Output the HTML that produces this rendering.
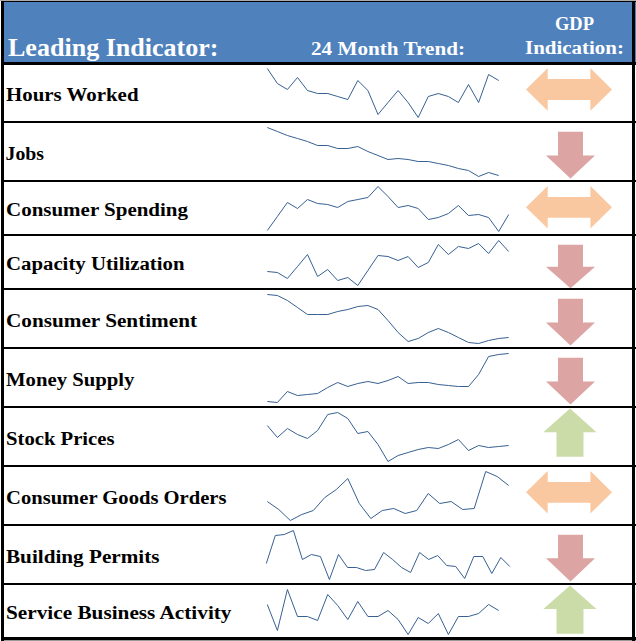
<!DOCTYPE html>
<html><head><meta charset="utf-8"><style>
html,body{margin:0;padding:0;background:#fff;overflow:hidden;}
svg{display:block;}
text{font-family:"Liberation Serif",serif;font-weight:bold;}
</style></head><body>
<svg width="636" height="641" viewBox="0 0 636 641" shape-rendering="auto">
<rect x="0" y="0" width="636" height="1" fill="#ababab"/>
<rect x="4" y="2" width="628" height="60" fill="#4F81BD"/>
<rect x="635" y="2" width="1" height="60" fill="#4F81BD"/>
<rect x="1" y="1" width="635" height="1" fill="#000"/>
<rect x="1" y="1" width="3" height="640" fill="#000"/>
<rect x="632" y="1" width="3" height="640" fill="#000"/>
<rect x="1" y="62" width="635" height="3" fill="#000"/>
<rect x="1" y="121" width="635" height="2" fill="#000"/>
<rect x="1" y="180" width="635" height="2" fill="#000"/>
<rect x="1" y="234" width="635" height="2" fill="#000"/>
<rect x="1" y="288" width="635" height="2" fill="#000"/>
<rect x="1" y="347" width="635" height="2" fill="#000"/>
<rect x="1" y="406" width="635" height="2" fill="#000"/>
<rect x="1" y="465" width="635" height="2" fill="#000"/>
<rect x="1" y="524" width="635" height="2" fill="#000"/>
<rect x="1" y="583" width="635" height="2" fill="#000"/>
<rect x="1" y="637" width="635" height="3" fill="#000"/>
<rect x="4" y="640" width="628" height="1" fill="#9a9a9a"/>
<rect x="635" y="640" width="1" height="1" fill="#9a9a9a"/>
<text x="8" y="55.6" font-size="26" textLength="210.5" lengthAdjust="spacingAndGlyphs" fill="#fff">Leading Indicator:</text>
<text x="311" y="55" font-size="18.5" textLength="154" lengthAdjust="spacingAndGlyphs" fill="#fff">24 Month Trend:</text>
<text x="555" y="29.75" font-size="18.5" textLength="39" lengthAdjust="spacingAndGlyphs" fill="#fff">GDP</text>
<text x="525" y="54" font-size="18.5" textLength="99" lengthAdjust="spacingAndGlyphs" fill="#fff">Indication:</text>
<text x="6" y="100.5" font-size="18.5" textLength="132.5" lengthAdjust="spacingAndGlyphs" fill="#000">Hours Worked</text>
<text x="5.5" y="160" font-size="18.5" textLength="38.5" lengthAdjust="spacingAndGlyphs" fill="#000">Jobs</text>
<text x="6" y="215.5" font-size="18.5" textLength="182" lengthAdjust="spacingAndGlyphs" fill="#000">Consumer Spending</text>
<text x="6" y="269.5" font-size="18.5" textLength="178.5" lengthAdjust="spacingAndGlyphs" fill="#000">Capacity Utilization</text>
<text x="6" y="326.7" font-size="18.5" textLength="191" lengthAdjust="spacingAndGlyphs" fill="#000">Consumer Sentiment</text>
<text x="6" y="386" font-size="18.5" textLength="128.5" lengthAdjust="spacingAndGlyphs" fill="#000">Money Supply</text>
<text x="6" y="444.5" font-size="18.5" textLength="108.5" lengthAdjust="spacingAndGlyphs" fill="#000">Stock Prices</text>
<text x="6" y="503.6" font-size="18.5" textLength="220.5" lengthAdjust="spacingAndGlyphs" fill="#000">Consumer Goods Orders</text>
<text x="6" y="562.8" font-size="18.5" textLength="153.5" lengthAdjust="spacingAndGlyphs" fill="#000">Building Permits</text>
<text x="6" y="619" font-size="18.5" textLength="225.5" lengthAdjust="spacingAndGlyphs" fill="#000">Service Business Activity</text>
<polygon fill="#FAC8A0" points="526.0,89.5 547.7,68.3 547.7,79.1 590.4,79.1 590.4,68.3 612.0,89.5 590.4,110.7 590.4,99.9 547.7,99.9 547.7,110.7"/>
<polygon fill="#DCA4A3" points="558.0,131.8 583.0,131.8 583.0,155.5 595.0,155.5 570.5,178.6 546.0,155.5 558.0,155.5"/>
<polygon fill="#FAC8A0" points="526.0,207.3 547.7,186.1 547.7,196.9 590.4,196.9 590.4,186.1 612.0,207.3 590.4,228.5 590.4,217.7 547.7,217.7 547.7,228.5"/>
<polygon fill="#DCA4A3" points="558.0,244.8 583.0,244.8 583.0,266.8 595.0,266.8 570.5,288.2 546.0,266.8 558.0,266.8"/>
<polygon fill="#DCA4A3" points="558.0,298.8 583.0,298.8 583.0,322.5 595.0,322.5 570.5,345.6 546.0,322.5 558.0,322.5"/>
<polygon fill="#DCA4A3" points="558.0,357.8 583.0,357.8 583.0,381.5 595.0,381.5 570.5,404.6 546.0,381.5 558.0,381.5"/>
<polygon fill="#CCDCA9" points="570.0,408.5 596.5,432.2 583.5,432.2 583.5,456.7 556.5,456.7 556.5,432.2 543.3,432.2"/>
<polygon fill="#FAC8A0" points="526.0,492.3 547.7,471.1 547.7,481.9 590.4,481.9 590.4,471.1 612.0,492.3 590.4,513.5 590.4,502.7 547.7,502.7 547.7,513.5"/>
<polygon fill="#DCA4A3" points="558.0,534.8 583.0,534.8 583.0,558.3 595.0,558.3 570.5,581.6 546.0,558.3 558.0,558.3"/>
<polygon fill="#CCDCA9" points="570.0,585.4 596.5,608.9 583.5,608.9 583.5,633.8 556.5,633.8 556.5,608.9 543.3,608.9"/>
<polyline fill="none" stroke="#376092" stroke-width="1" stroke-linejoin="miter" points="267.3,68.5 277.4,83.5 287.4,89.5 297.5,77.5 307.5,90.5 317.6,93.5 327.7,93.5 337.7,96.5 347.8,99.5 357.8,80.5 367.9,90.5 378.0,114.5 388.0,102.5 398.1,90.5 408.1,102.5 418.2,117.5 428.3,96.5 438.3,93.5 448.4,96.5 458.4,102.5 468.5,84.5 478.6,102.5 488.6,74.5 498.7,80.5"/>
<polyline fill="none" stroke="#376092" stroke-width="1" stroke-linejoin="miter" points="267.3,127.5 277.4,131.5 287.4,135.5 297.5,138.5 307.5,141.5 317.6,145.5 327.7,145.5 337.7,148.5 347.8,148.5 357.8,146.5 367.9,151.5 378.0,155.5 388.0,159.5 398.1,158.5 408.1,159.5 418.2,161.5 428.3,161.5 438.3,163.5 448.4,165.5 458.4,168.5 468.5,170.5 478.6,176.5 488.6,172.5 498.7,175.5"/>
<polyline fill="none" stroke="#376092" stroke-width="1" stroke-linejoin="miter" points="267.3,230.5 277.4,216.5 287.4,202.5 297.5,208.5 307.5,199.5 317.6,203.5 327.7,204.5 337.7,207.5 347.8,201.5 357.8,199.5 367.9,197.5 378.0,186.5 388.0,196.5 398.1,207.5 408.1,205.5 418.2,208.5 428.3,219.5 438.3,217.5 448.4,213.5 458.4,205.5 468.5,215.5 478.6,214.5 488.6,217.5 498.7,231.5 508.7,214.5"/>
<polyline fill="none" stroke="#376092" stroke-width="1" stroke-linejoin="miter" points="267.3,271.5 277.4,272.5 287.4,278.5 297.5,266.5 307.5,254.5 317.6,276.5 327.7,269.5 337.7,280.5 347.8,277.5 357.8,285.5 367.9,270.5 378.0,255.5 388.0,256.5 398.1,260.5 408.1,256.5 418.2,267.5 428.3,262.5 438.3,244.5 448.4,254.5 458.4,246.5 468.5,248.5 478.6,243.5 488.6,253.5 498.7,240.5 508.7,251.5"/>
<polyline fill="none" stroke="#376092" stroke-width="1" stroke-linejoin="miter" points="267.3,294.5 277.4,295.5 287.4,300.5 297.5,307.5 307.5,314.5 317.6,314.5 327.7,314.5 337.7,311.5 347.8,309.5 357.8,306.5 367.9,305.5 378.0,309.5 388.0,320.5 398.1,332.5 408.1,341.5 418.2,338.5 428.3,332.5 438.3,328.5 448.4,332.5 458.4,337.5 468.5,342.5 478.6,343.5 488.6,340.5 498.7,338.5 508.7,337.5"/>
<polyline fill="none" stroke="#376092" stroke-width="1" stroke-linejoin="miter" points="267.3,401.5 277.4,402.5 287.4,391.5 297.5,395.5 307.5,394.5 317.6,393.5 327.7,387.5 337.7,382.5 347.8,386.5 357.8,383.5 367.9,381.5 378.0,383.5 388.0,380.5 398.1,376.5 408.1,383.5 418.2,382.5 428.3,382.5 438.3,384.5 448.4,385.5 458.4,386.5 468.5,386.5 478.6,374.5 488.6,356.5 498.7,354.5 508.7,353.5"/>
<polyline fill="none" stroke="#376092" stroke-width="1" stroke-linejoin="miter" points="267.3,425.5 277.4,437.5 287.4,428.5 297.5,434.5 307.5,438.5 317.6,430.5 327.7,414.5 337.7,412.5 347.8,418.5 357.8,433.5 367.9,431.5 378.0,444.5 388.0,461.5 398.1,455.5 408.1,452.5 418.2,449.5 428.3,447.5 438.3,448.5 448.4,444.5 458.4,439.5 468.5,450.5 478.6,445.5 488.6,447.5 498.7,446.5 508.7,445.5"/>
<polyline fill="none" stroke="#376092" stroke-width="1" stroke-linejoin="miter" points="267.3,501.5 278.8,509.5 290.3,520.5 301.8,514.5 313.3,510.5 324.8,497.5 336.3,489.5 347.8,478.5 359.3,503.5 370.8,518.5 382.3,510.5 393.7,508.5 405.2,513.5 416.7,510.5 428.2,493.5 439.7,503.5 451.2,501.5 462.7,509.5 474.2,508.5 485.7,471.5 497.2,476.5 508.7,485.5"/>
<polyline fill="none" stroke="#376092" stroke-width="1" stroke-linejoin="miter" points="266.3,563.5 275.3,535.5 284.3,534.5 293.4,530.5 302.4,559.5 311.4,554.5 320.4,556.5 329.4,579.5 338.5,554.5 347.5,567.5 356.5,567.5 365.5,570.5 374.5,569.5 383.6,552.5 392.6,559.5 401.6,567.5 410.6,572.5 419.6,552.5 428.7,559.5 437.7,555.5 446.7,565.5 455.7,566.5 464.7,578.5 473.8,556.5 482.8,556.5 491.8,573.5 500.8,557.5 509.8,566.5"/>
<polyline fill="none" stroke="#376092" stroke-width="1" stroke-linejoin="miter" points="267.3,604.5 277.4,630.5 287.4,589.5 297.5,616.5 307.5,616.5 317.6,620.5 327.7,594.5 337.7,605.5 347.8,619.5 357.8,601.5 367.9,616.5 378.0,616.5 388.0,610.5 398.1,619.5 408.1,634.5 418.2,617.5 428.3,623.5 438.3,613.5 448.4,634.5 458.4,616.5 468.5,616.5 478.6,613.5 488.6,604.5 498.7,610.5"/>
</svg></body></html>
